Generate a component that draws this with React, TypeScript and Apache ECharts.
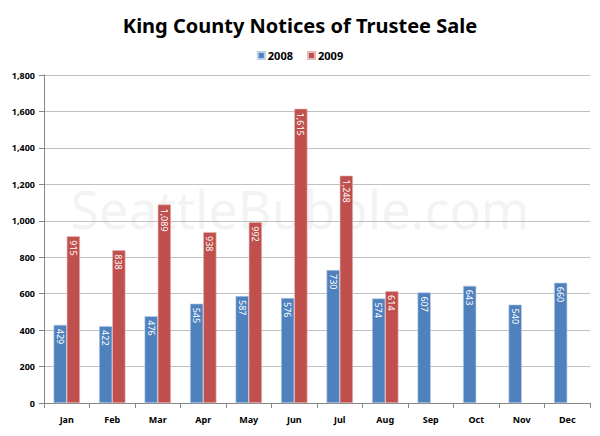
import React, { useEffect, useRef } from "react";
import * as echarts from "echarts";

const months = ["Jan", "Feb", "Mar", "Apr", "May", "Jun", "Jul", "Aug", "Sep", "Oct", "Nov", "Dec"];
const values2008 = [429, 422, 476, 545, 587, 576, 730, 574, 607, 643, 540, 660];
const values2009: (number | null)[] = [915, 838, 1089, 938, 992, 1615, 1248, 614, null, null, null, null];
const seriesNames = ["2008", "2009"];
const titleText = "King County Notices of Trustee Sale";
const watermarkText = "SeattleBubble.com";

const FONT = "'Noto Sans', 'Open Sans', sans-serif";

export default function App() {
  const ref = useRef<HTMLDivElement>(null);
  useEffect(() => {
    if (!ref.current) return;
    const chart = echarts.init(ref.current, undefined, { renderer: "svg" });
    const label = {
      show: true,
      position: "insideTop",
      rotate: -90,
      align: "left",
      verticalAlign: "middle",
      distance: 4,
      color: "#ffffff",
      fontSize: 9,
      fontWeight: "normal",
      fontFamily: FONT,
      formatter: (p: any) => (p.value == null ? "" : Number(p.value).toLocaleString("en-US")),
    };
    chart.setOption({
      animation: false,
      backgroundColor: "#ffffff",
      textStyle: { fontFamily: FONT },
      title: {
        text: titleText,
        left: "center",
        top: 10,
        textStyle: { fontSize: 20, fontWeight: "bold", color: "#000", fontFamily: FONT },
      },
      legend: {
        data: seriesNames,
        top: 45,
        left: "center",
        itemWidth: 7,
        itemHeight: 7,
        itemGap: 14,
        icon: "rect",
        textStyle: { fontSize: 11, fontWeight: "bold", color: "#000", fontFamily: FONT, padding: [0, 0, 0, -2] },
      },
      graphic: [
        {
          type: "rect",
          shape: { x: 1.5, y: 1.5, width: 594, height: 430 },
          style: { fill: "none", stroke: "#8c8c8c", lineWidth: 2, shadowColor: "rgba(0,0,0,0.3)", shadowBlur: 3, shadowOffsetX: 1, shadowOffsetY: 1 },
          z: 100,
        },
        {
          type: "text",
          left: "center",
          top: 182,
          style: { text: watermarkText, fontSize: 52, fontFamily: FONT, fill: "#f3f3f3" },
          z: -1,
        },
      ],
      grid: { left: 44, right: 10, top: 75, bottom: 33 },
      xAxis: {
        type: "category",
        data: months,
        axisLine: { lineStyle: { color: "#868686" } },
        axisTick: { show: true, length: 5, lineStyle: { color: "#868686" } },
        axisLabel: { fontSize: 9, fontWeight: "bold", color: "#000", margin: 12, fontFamily: FONT },
      },
      yAxis: {
        type: "value",
        min: 0,
        max: 1800,
        interval: 200,
        axisLine: { show: true, lineStyle: { color: "#868686" } },
        axisTick: { show: true, length: 5, lineStyle: { color: "#868686" } },
        axisLabel: {
          fontSize: 9,
          fontWeight: "bold",
          color: "#000",
          margin: 9,
          fontFamily: FONT,
          formatter: (v: number) => v.toLocaleString("en-US"),
        },
        splitLine: { lineStyle: { color: "#c0c0c0", width: 1 } },
      },
      series: [
        {
          name: seriesNames[0],
          type: "bar",
          data: values2008,
          barGap: "0%",
          barCategoryGap: "42%",
          itemStyle: { color: "#4F81BD", borderColor: "#b9cde5", borderWidth: 0.6 },
          label,
        },
        {
          name: seriesNames[1],
          type: "bar",
          data: values2009,
          itemStyle: { color: "#C0504D", borderColor: "#e6b9b8", borderWidth: 0.6 },
          label,
        },
      ],
    });
    return () => chart.dispose();
  }, []);
  return <div ref={ref} style={{ width: 600, height: 436, margin: -8 }} />;
}
